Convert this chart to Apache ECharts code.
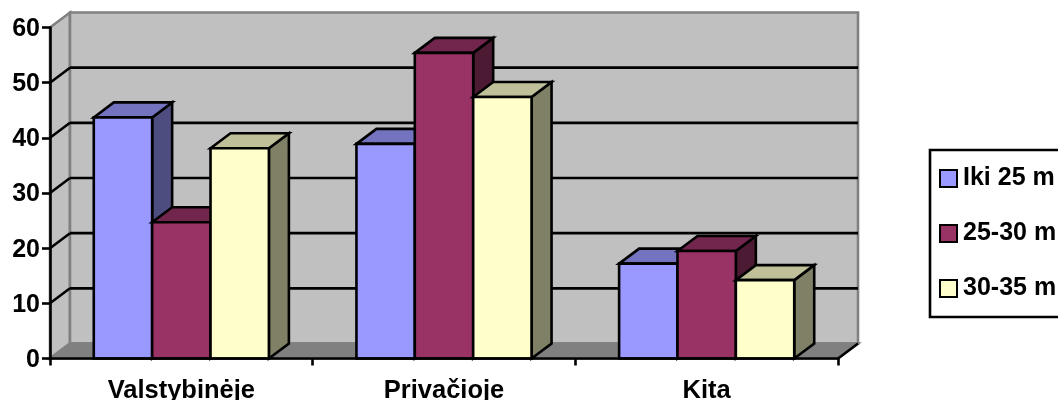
<!DOCTYPE html>
<html><head><meta charset="utf-8">
<style>html,body{margin:0;padding:0;background:#fff}#c{width:1058px;height:400px}</style>
<script src="https://cdn.jsdelivr.net/npm/echarts@6/dist/echarts.min.js"></script>
</head><body><div id="c"></div>
<script>
var categories = ['Valstybinėje', 'Privačioje', 'Kita'];
var seriesNames = ['Iki 25 m', '25-30 m', '30-35 m'];
var under25 = [43.7, 38.9, 17.2];
var from25to30 = [24.7, 55.4, 19.5];
var from30to35 = [38.1, 47.4, 14.2];
var gridValues = [10, 20, 30, 40, 50];

var colors = [
  {front:'#9999FF', top:'#7373BF', side:'#4D4D80'},
  {front:'#993366', top:'#73264D', side:'#4D1A33'},
  {front:'#FFFFCC', top:'#BFBF99', side:'#808066'}
];
var DX = 20, DY = 15;
var LW = 2.6;
var FONT = '"Liberation Sans", Arial, sans-serif';

function poly(pts, fill, stroke, lw) {
  return {type:'polygon', shape:{points:pts}, style:{fill:fill, stroke:stroke, lineWidth:lw, lineJoin:'miter'}};
}
function seg(a, b, color) {
  return {type:'line', shape:{x1:a[0],y1:a[1],x2:b[0],y2:b[1]}, style:{stroke:color, lineWidth:LW}};
}
function renderWalls(params, api) {
  var cs = params.coordSys;
  var l = cs.x, r = cs.x + cs.width, t = cs.y, b = cs.y + cs.height;
  var els = [
    poly([[l,t],[l+DX,t-DY],[l+DX,b-DY],[l,b]], '#C0C0C0', '#808080', LW),
    poly([[l+DX,t-DY],[r+DX,t-DY],[r+DX,b-DY],[l+DX,b-DY]], '#C0C0C0', '#808080', LW),
    poly([[l,b],[l+DX,b-DY],[r+DX,b-DY],[r,b]], '#808080', '#808080', LW)
  ];
  gridValues.forEach(function (v) {
    var y = api.coord([0, v])[1];
    els.push(seg([l,y],[l+DX,y-DY],'#000'));
    els.push(seg([l+DX,y-DY],[r+DX,y-DY],'#000'));
  });
  els.push(seg([r,b],[r+DX,b-DY],'#000'));
  return {type:'group', children:els};
}
function renderBar(params, api) {
  var cat = api.value(0), val = api.value(1);
  var band = api.size([1, 0])[0];
  var w = band / 4.5;
  var base = api.coord([cat, 0]);
  var topY = api.coord([cat, val])[1];
  var x0 = base[0] + (params.seriesIndex - 2.5) * w;
  var x1 = x0 + w, y0 = base[1], c = colors[params.seriesIndex - 1];
  return {type:'group', children:[
    poly([[x1,y0],[x1+DX,y0-DY],[x1+DX,topY-DY],[x1,topY]], c.side, '#000', LW),
    poly([[x0,topY],[x0+DX,topY-DY],[x1+DX,topY-DY],[x1,topY]], c.top, '#000', LW),
    poly([[x0,y0],[x1,y0],[x1,topY],[x0,topY]], c.front, '#000', LW)
  ]};
}
function barSeries(i, values) {
  return {
    name: seriesNames[i], type:'custom', renderItem: renderBar, z:3,
    itemStyle:{color:colors[i].front, borderColor:'#000', borderWidth:LW},
    encode:{x:0,y:1},
    data: values.map(function (v, k) { return [k, v]; })
  };
}
var chart = echarts.init(document.getElementById('c'), null, {renderer:'canvas'});
chart.setOption({
  animation:false,
  backgroundColor:'#fff',
  grid:{left:50, top:27.5, width:788, height:331, containLabel:false, outerBoundsMode:'none'},
  legend:{
    data:seriesNames, orient:'vertical', left:930, top:150,
    backgroundColor:'#fff', borderColor:'#000', borderWidth:LW,
    padding:[16,12,16,9],
    itemWidth:17, itemHeight:17, itemGap:30,
    selectedMode:false,
    textStyle:{fontFamily:FONT, fontWeight:'bold', fontSize:25, color:'#000', padding:[0,0,0,1]},
    icon:'rect'
  },
  xAxis:{
    type:'category', data:categories, z:5,
    axisLine:{lineStyle:{color:'#000',width:LW}},
    axisTick:{show:true, length:7, lineStyle:{color:'#000',width:LW}},
    axisLabel:{fontFamily:FONT, fontWeight:'bold', fontSize:25.5, color:'#000', margin:19}
  },
  yAxis:{
    type:'value', min:0, max:60, interval:10, z:5,
    axisLine:{show:true, lineStyle:{color:'#000',width:LW}},
    axisTick:{show:true, length:8, lineStyle:{color:'#000',width:LW}},
    axisLabel:{fontFamily:FONT, fontWeight:'bold', fontSize:25, lineHeight:25, color:'#000', margin:10, verticalAlign:'bottom', padding:[0,0,-14,0]},
    splitLine:{show:false}
  },
  series:[
    {type:'custom', name:'walls', renderItem:renderWalls, silent:true, z:1, data:[[0,0]], encode:{x:0,y:1}},
    barSeries(0, under25),
    barSeries(1, from25to30),
    barSeries(2, from30to35)
  ]
});
</script></body></html>
